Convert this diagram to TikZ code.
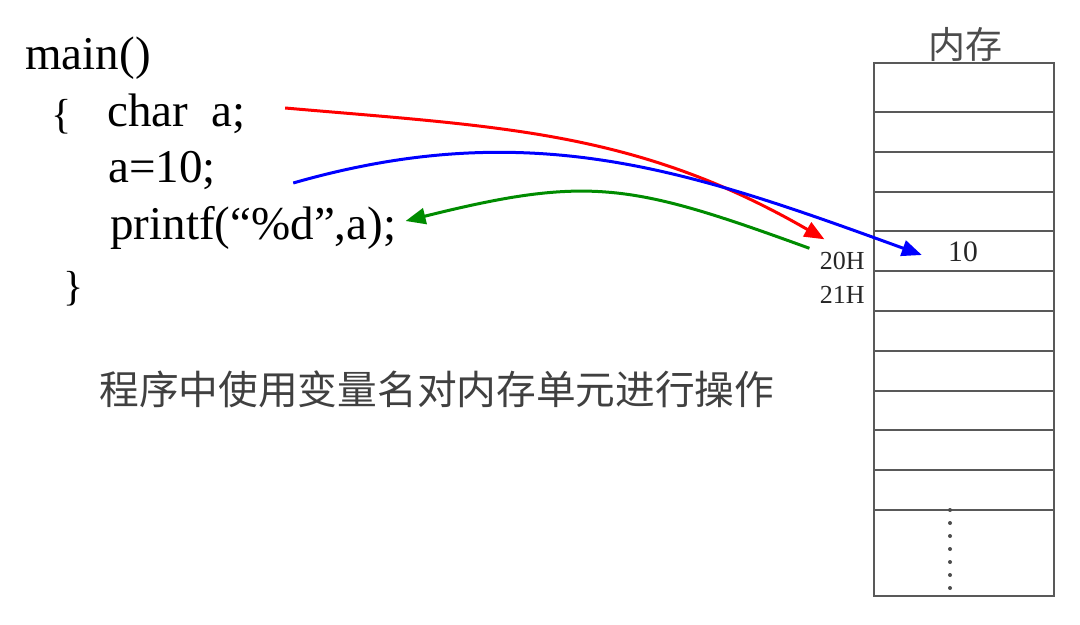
\documentclass[tikz,border=0pt]{standalone}
\usepackage{fontspec}
\setmainfont{Liberation Serif}
\newfontfamily\cjk{Noto Sans CJK SC}
\usetikzlibrary{positioning, arrows.meta}

\begin{document}
\begin{tikzpicture} [
    x=0.5pt, y=-0.5pt,
    code/.style={anchor=base west, inner sep=0pt, font=\fontsize{23.5}{28}\selectfont},
    brace/.style={anchor=base west, inner sep=0pt, font=\fontsize{21}{24}\selectfont},
    note/.style={anchor=base west, inner sep=0pt, text=black!75, font=\cjk\fontsize{19.85}{24}\selectfont},
    cell/.style={rectangle, draw=black!65, line width=1pt, minimum width=90pt, minimum height=19.9pt, inner sep=0pt, outer sep=0pt},
    addr/.style={anchor=base east, inner sep=0pt, text=black!85, font=\fontsize{13}{15}\selectfont},
    arrow/.style={-{Triangle[length=10pt, width=8pt]}, line width=1.5pt}
]

\path[fill=white, use as bounding box] (0,0) rectangle (1080,625);

% the program
\node[code] (mainline) at (25,70) {main()};
\node[brace] (openbrace) at (51,129) {\{};
\node[code] (charline) at (107,127) {char~~a;};
\node[code] (assignline) at (108,183) {a=10;};
\node[code] (printline) at (110,240) {printf(“\%d”,a);};
\node[brace] (closebrace) at (63,301) {\}};

\node[note] (remark) at (99,404) {程序中使用变量名对内存单元进行操作};

% the memory
\node[anchor=base, inner sep=0pt, text=black!70, font=\cjk\fontsize{18.5}{22}\selectfont] (memtitle) at (965,59) {内存};
\node[cell, minimum height=24.5pt, anchor=north] (cell1) at (964,63) {};
\node[cell, below=0pt of cell1] (cell2) {};
\node[cell, below=0pt of cell2] (cell3) {};
\node[cell, below=0pt of cell3] (cell4) {};
\node[cell, below=0pt of cell4] (cell5) {};
\node[cell, below=0pt of cell5] (cell6) {};
\node[cell, below=0pt of cell6] (cell7) {};
\node[cell, below=0pt of cell7] (cell8) {};
\node[cell, below=0pt of cell8] (cell9) {};
\node[cell, below=0pt of cell9] (cell10) {};
\node[cell, below=0pt of cell10] (cell11) {};
\node[cell, minimum height=43pt, below=0pt of cell11] (cell12) {};
\draw[black!70, line width=2pt, line cap=round, dash pattern=on 0pt off 6.5pt]
    ([xshift=-7pt]cell12.north) -- ([xshift=-7pt, yshift=2pt]cell12.south);

\node[inner sep=0pt, text=black!85, font=\fontsize{14.8}{17}\selectfont] (value) at (963,252) {10};
\node[addr] (addr20) at (865,270) {20H};
\node[addr] (addr21) at (865,304) {21H};

% the accesses
\draw[arrow, red] ([xshift=19.5pt, yshift=9.5pt]charline.base east)
    to[out=-5, in=150] ([xshift=2.5pt, yshift=6.5pt]addr20.north west);
\draw[arrow, blue] ([xshift=38.5pt]assignline.base east)
    to[out=16, in=160] ([xshift=-13pt, yshift=-1.5pt]value.west);
\draw[arrow, green!55!black] ([xshift=-5pt, yshift=2pt]addr20.north west)
    to[out=160, in=14, looseness=1.2] ([xshift=4.5pt, yshift=9.5pt]printline.base east);

\end{tikzpicture}
\end{document}
